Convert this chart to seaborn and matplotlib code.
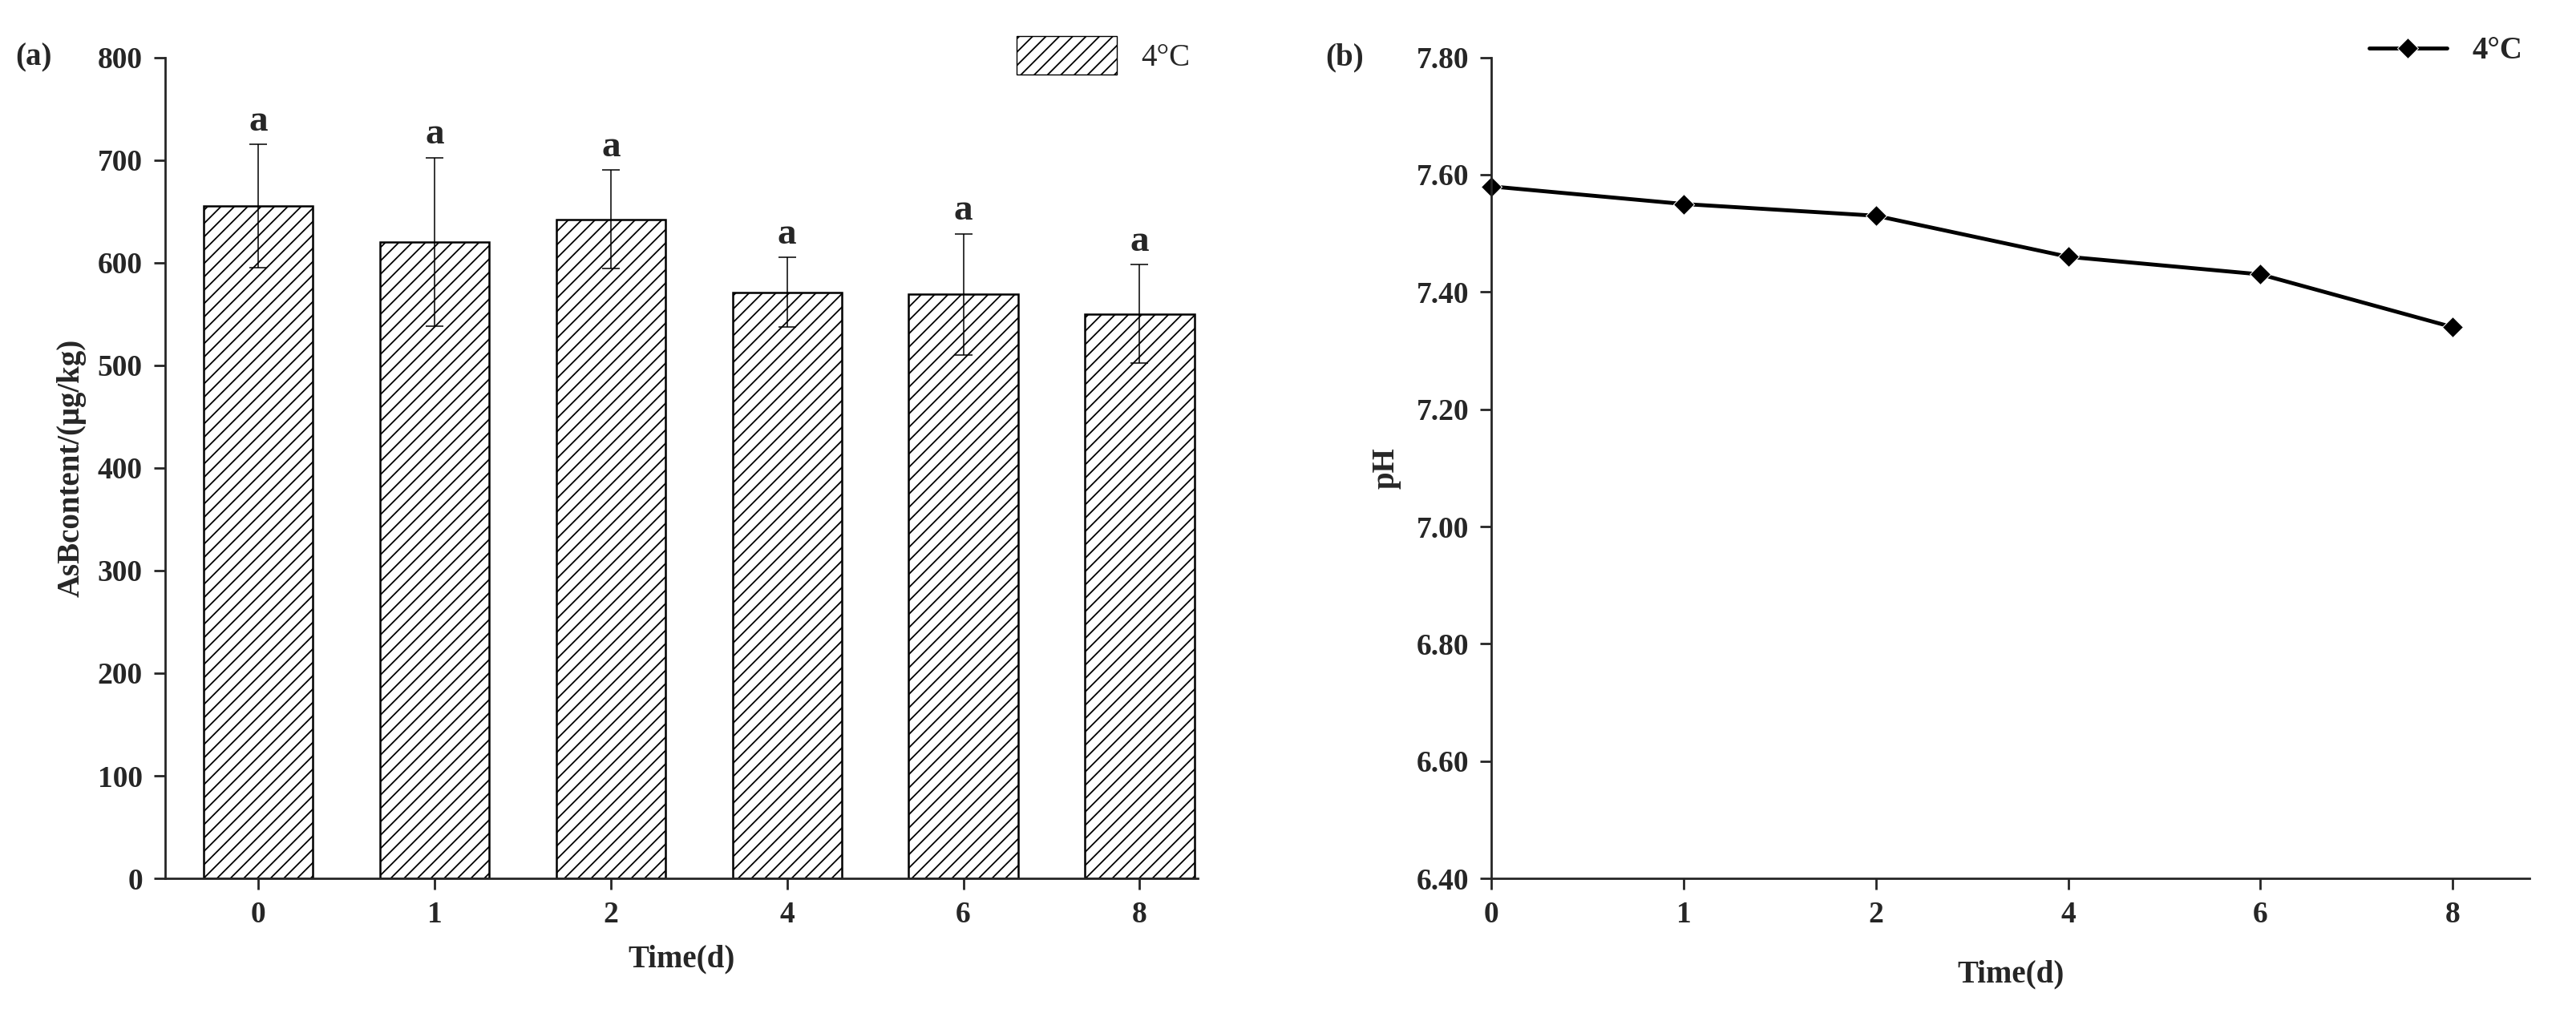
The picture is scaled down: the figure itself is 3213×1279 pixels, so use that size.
import matplotlib
matplotlib.use("Agg")
import matplotlib.pyplot as plt
import pandas as pd
import seaborn as sns
from matplotlib.patches import Patch

days = ["0", "1", "2", "4", "6", "8"]
asb_content = [655, 620, 642, 571, 569, 550]
asb_err = [60, 82, 48, 34, 59, 48]
sig_letters = ["a", "a", "a", "a", "a", "a"]
ph_values = [7.58, 7.55, 7.53, 7.46, 7.43, 7.34]

sns.set_theme(style="ticks")
plt.rcParams["font.family"] = ["Liberation Serif", "DejaVu Serif"]
plt.rcParams["font.weight"] = "bold"
plt.rcParams["hatch.linewidth"] = 1.3

fig = plt.figure(figsize=(32.13, 12.79), dpi=100)
ax1 = fig.add_axes([0.064, 0.143, 0.401, 0.801])
ax2 = fig.add_axes([0.579, 0.143, 0.403, 0.801])

df = pd.DataFrame({"day": days, "asb": asb_content})
sns.barplot(data=df, x="day", y="asb", ax=ax1, color="white", edgecolor="black",
            linewidth=1.8, width=0.62, hatch="//")
ax1.errorbar(range(len(days)), asb_content, yerr=asb_err, fmt="none",
             ecolor="black", elinewidth=1.1, capsize=8, capthick=1.1)
for i, (v, e, s) in enumerate(zip(asb_content, asb_err, sig_letters)):
    ax1.text(i, v + e + 6, s, ha="center", va="bottom", fontsize=34, fontweight="bold")
ax1.set_xlim(-0.53, 5.33)
ax1.set_ylim(0, 800)
ax1.set_yticks(range(0, 801, 100))
ax1.set_xlabel("Time(d)", fontsize=28, fontweight="bold", labelpad=14)
ax1.set_ylabel("AsBcontent/(μg/kg)", fontsize=28, fontweight="bold", labelpad=10)
ax1.legend(handles=[Patch(facecolor="white", edgecolor="black", hatch="//", label="4°C")],
           loc="upper right", bbox_to_anchor=(1.02, 1.06), frameon=False, fontsize=28,
           handlelength=3.2, handleheight=1.5, prop={"size": 28, "weight": "normal"})
ax1.text(-0.145, 1.0, "(a)", transform=ax1.transAxes, fontsize=28, fontweight="bold", va="center")

df2 = pd.DataFrame({"x": range(len(days)), "ph": ph_values})
sns.lineplot(data=df2, x="x", y="ph", ax=ax2, color="black", linewidth=3.5,
             marker="D", markersize=13, label="4°C", clip_on=False)
ax2.set_xlim(0, 5.4)
ax2.set_ylim(6.4, 7.8)
ax2.set_xticks(range(len(days)))
ax2.set_xticklabels(days)
ax2.set_yticks([6.4 + 0.2 * i for i in range(8)])
ax2.set_yticklabels([f"{6.4 + 0.2 * i:.2f}" for i in range(8)])
ax2.set_xlabel("Time(d)", fontsize=28, fontweight="bold", labelpad=28)
ax2.set_ylabel("pH", fontsize=28, fontweight="bold", labelpad=14)
ax2.legend(loc="upper right", bbox_to_anchor=(1.02, 1.06), frameon=False,
           prop={"weight": "bold", "size": 28}, handlelength=2.5)
ax2.text(-0.16, 1.0, "(b)", transform=ax2.transAxes, fontsize=28, fontweight="bold", va="center")

for ax in (ax1, ax2):
    sns.despine(ax=ax)
    for sp in ("left", "bottom"):
        ax.spines[sp].set_linewidth(2)
    ax.tick_params(direction="out", length=10, width=2, labelsize=27, pad=10)
    for lab in ax.get_xticklabels() + ax.get_yticklabels():
        lab.set_fontweight("bold")

fig.savefig("out.png", dpi=100)
